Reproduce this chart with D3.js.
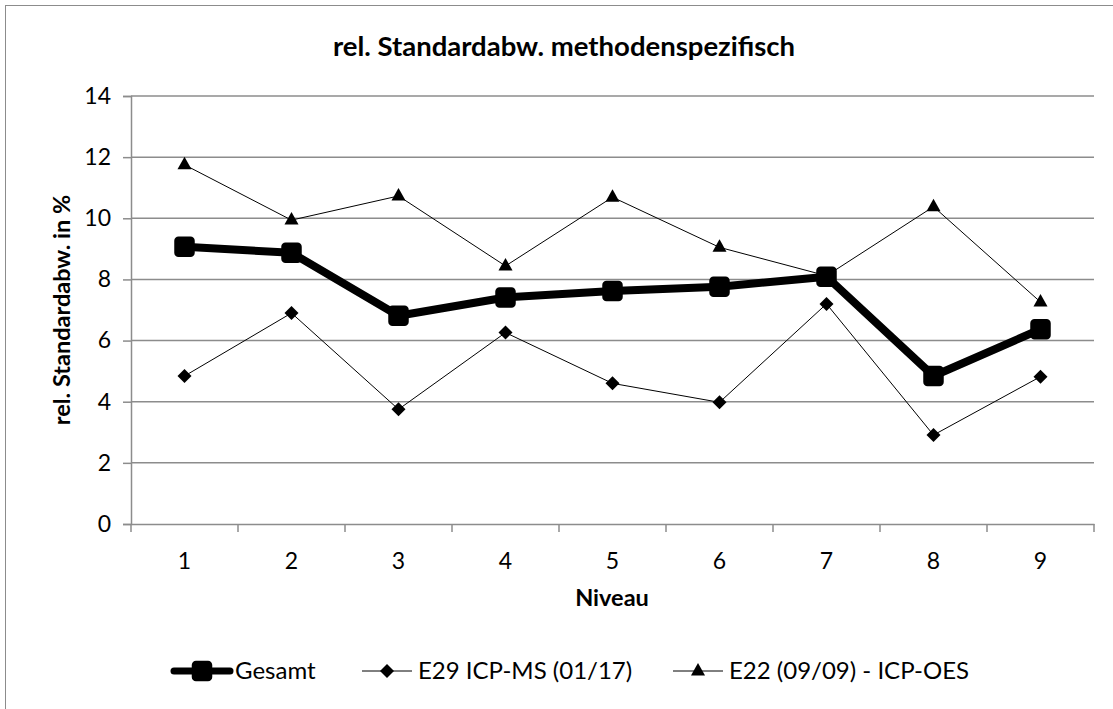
<!DOCTYPE html>
<html><head><meta charset="utf-8">
<script src="https://cdn.jsdelivr.net/npm/d3@7"></script>
<style>
html,body{margin:0;padding:0;background:#fff;}
svg{display:block;font-family:Lato,"Noto Sans",sans-serif;}
</style></head><body>
<svg id="c" width="1113" height="709"></svg>
<script>
const categories = ["1","2","3","4","5","6","7","8","9"];
const gesamt = [9.07, 8.87, 6.81, 7.41, 7.62, 7.76, 8.09, 4.84, 6.37];
const e29 = [4.84, 6.90, 3.75, 6.26, 4.60, 3.98, 7.20, 2.91, 4.82];
const e22 = [11.75, 9.94, 10.73, 8.44, 10.69, 9.05, 8.12, 10.38, 7.26];
const yTicks = [0, 2, 4, 6, 8, 10, 12, 14];
const seriesNames = ["Gesamt", "E29 ICP-MS (01/17)", "E22 (09/09) - ICP-OES"];
const titleText = "rel. Standardabw. methodenspezifisch";
const xTitle = "Niveau";
const yTitle = "rel. Standardabw. in %";

const svg = d3.select("#c");
const grid = "#8c8c8c";
// outer chart border
svg.append("rect").attr("x",5.5).attr("y",5.5).attr("width",1200).attr("height",800)
  .attr("fill","none").attr("stroke","#8c8c8c").attr("stroke-width",1);

const L = 131, R = 1094, T = 96, B = 524;
const x = d3.scaleBand().domain(categories).range([L, R]).padding(0);
const y = d3.scaleLinear().domain([0, 14]).range([B, T]);
const cx = c => x(c) + x.bandwidth()/2;

// gridlines
svg.append("g").selectAll("line").data(yTicks.filter(v=>v>0)).join("line")
  .attr("x1", L).attr("x2", R).attr("y1", d=>y(d)).attr("y2", d=>y(d))
  .attr("stroke", grid).attr("stroke-width", 1.5);

// y axis
const yAxis = svg.append("g").attr("transform",`translate(${L},0)`)
  .call(d3.axisLeft(y).tickValues(yTicks).tickSize(8).tickPadding(12).tickFormat(d3.format("d")));
yAxis.select(".domain").attr("stroke", grid).attr("stroke-width",1.5);
yAxis.selectAll(".tick line").attr("stroke", grid).attr("stroke-width",1.5);
yAxis.selectAll("text").attr("font-size",23).attr("fill","#000").attr("font-family","Lato");

// x axis with ticks at category boundaries
const xAxis = svg.append("g").attr("transform",`translate(0,${B})`)
  .call(d3.axisBottom(x).tickSize(0).tickPadding(29));
xAxis.select(".domain").attr("stroke", grid).attr("stroke-width",1.5);
xAxis.selectAll("text").attr("font-size",23).attr("fill","#000").attr("font-family","Lato");
const bounds = categories.map(c=>x(c)).concat([R]);
svg.append("g").selectAll("line").data(bounds).join("line")
  .attr("x1", d=>d).attr("x2", d=>d).attr("y1", B).attr("y2", B+8)
  .attr("stroke", grid).attr("stroke-width",1.5);

const line = d3.line().x((d,i)=>cx(categories[i])).y(d=>y(d));
const diamond = "M0,-7L7,0L0,7L-7,0Z";
const tri = "M0,-8L7,4.5L-7,4.5Z";

// Gesamt
svg.append("path").datum(gesamt).attr("d", line).attr("fill","none")
  .attr("stroke","#000").attr("stroke-width",8).attr("stroke-linejoin","round");
svg.append("g").selectAll("rect").data(gesamt).join("rect")
  .attr("x",(d,i)=>cx(categories[i])-9).attr("y",d=>y(d)-9)
  .attr("width",18).attr("height",18).attr("rx",3)
  .attr("fill","#000").attr("stroke","#000").attr("stroke-width",2.5).attr("stroke-linejoin","round");

// E29
svg.append("path").datum(e29).attr("d", line).attr("fill","none")
  .attr("stroke","#000").attr("stroke-width",1);
svg.append("g").selectAll("path").data(e29).join("path")
  .attr("d", diamond).attr("transform",(d,i)=>`translate(${cx(categories[i])},${y(d)})`).attr("fill","#000");

// E22
svg.append("path").datum(e22).attr("d", line).attr("fill","none")
  .attr("stroke","#000").attr("stroke-width",1);
svg.append("g").selectAll("path").data(e22).join("path")
  .attr("d", tri).attr("transform",(d,i)=>`translate(${cx(categories[i])},${y(d)})`).attr("fill","#000");

// title
svg.append("text").attr("x",564).attr("y",56).attr("text-anchor","middle")
  .attr("font-size",27.5).attr("font-weight","bold").text(titleText);
svg.append("text").attr("x",612).attr("y",606).attr("text-anchor","middle")
  .attr("font-size",23.5).attr("font-weight","bold").text(xTitle);
svg.append("text").attr("transform",`translate(70,${(T+B)/2}) rotate(-90)`).attr("text-anchor","middle")
  .attr("font-size",23.5).attr("font-weight","bold").text(yTitle);

// legend
const ly = 671;
const lg = svg.append("g");
const legendItems = [
  {name: seriesNames[0], x1:174, x2:230, tx:235, type:"sq"},
  {name: seriesNames[1], x1:362, x2:412, tx:418, type:"dia"},
  {name: seriesNames[2], x1:673, x2:723, tx:729, type:"tri"}
];
legendItems.forEach(it=>{
  const m = (it.x1+it.x2)/2;
  lg.append("line").attr("x1",it.x1).attr("x2",it.x2).attr("y1",ly).attr("y2",ly)
    .attr("stroke","#000").attr("stroke-width", it.type==="sq"?7:1)
    .attr("stroke-linecap", it.type==="sq"?"round":"butt");
  if(it.type==="sq"){
    lg.append("rect").attr("x",m-9).attr("y",ly-9).attr("width",18).attr("height",18).attr("rx",3)
      .attr("fill","#000").attr("stroke","#000").attr("stroke-width",2.5);
  } else {
    lg.append("path").attr("d", it.type==="dia"?diamond:tri).attr("transform",`translate(${m},${ly})`).attr("fill","#000");
  }
  lg.append("text").attr("x",it.tx).attr("y",ly+8).attr("font-size",24).text(it.name);
});
</script>
</body></html>
